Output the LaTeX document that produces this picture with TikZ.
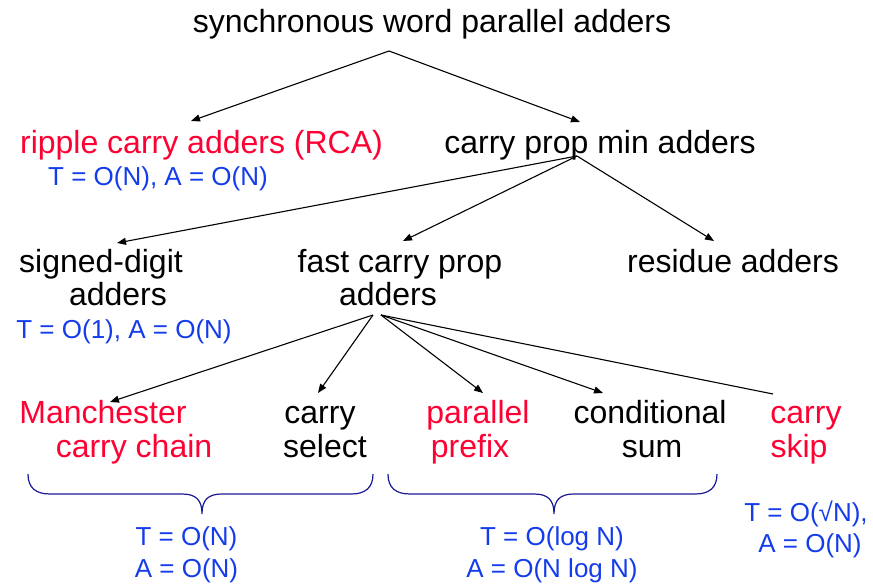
\documentclass[tikz,border=0pt]{standalone}
\usepackage{fontspec}
\setmainfont{Liberation Sans}
\usetikzlibrary{arrows.meta}
\definecolor{hired}{RGB}{255,0,51}
\definecolor{hiblue}{RGB}{20,60,235}
\definecolor{bracecol}{RGB}{25,25,150}
\begin{document}
\begin{tikzpicture}[x=1pt,y=-1pt,
  lbl/.style={inner sep=0pt, anchor=base, font=\fontsize{32}{38}\selectfont},
  red/.style={text=hired},
  cx/.style={inner sep=0pt, anchor=base, font=\fontsize{26}{31}\selectfont, text=hiblue},
  arr/.style={line width=1.1pt, -{Triangle[length=9pt,width=7pt]}},
  ln/.style={line width=1.1pt},
  brace/.style={line width=1.2pt, draw=bracecol}]
\useasboundingbox (0,0) rectangle (873,584);

% texts
\node[lbl] (root) at (432,32) {synchronous word parallel adders};
\node[lbl,red] (rca) at (201.5,153) {ripple carry adders (RCA)};
\node[cx] (rcac) at (158,185) {T = O(N), A = O(N)};
\node[lbl] (cpm) at (600,153) {carry prop min adders};

\node[lbl] (sd1) at (101,272) {signed-digit};
\node[lbl] (sd2) at (118,305) {adders};
\node[cx] (sdc) at (124,338) {T = O(1), A = O(N)};
\node[lbl] (fc1) at (400,272) {fast carry prop};
\node[lbl] (fc2) at (388,305) {adders};
\node[lbl] (res) at (733,272) {residue adders};

\node[lbl,red] (man1) at (103,423) {Manchester};
\node[lbl,red] (man2) at (134,457) {carry chain};
\node[lbl] (cs1) at (320,423) {carry};
\node[lbl] (cs2) at (325,457) {select};
\node[lbl,red] (pp1) at (478,423) {parallel};
\node[lbl,red] (pp2) at (470,457) {prefix};
\node[lbl] (co1) at (650,423) {conditional};
\node[lbl] (co2) at (652,457) {sum};
\node[lbl,red] (sk1) at (806,423) {carry};
\node[lbl,red] (sk2) at (799,457) {skip};

\node[cx] (b1a) at (186.5,545) {T = O(N)};
\node[cx] (b1b) at (186.5,577) {A = O(N)};
\node[cx] (b2a) at (552,545) {T = O(log N)};
\node[cx] (b2b) at (552,577) {A = O(N log N)};
\node[cx] (b3a) at (806,521) {T = O(\symbol{"221A}N),};
\node[cx] (b3b) at (810,552) {A = O(N)};

% connector anchor points
\coordinate (rootA) at (389,51);
\coordinate (rcaT) at (191,121);
\coordinate (cpmT) at (580,122);
\coordinate (cpmA) at (577,156);
\coordinate (sdT) at (117,243);
\coordinate (fcT) at (403,241);
\coordinate (resT) at (714,241);
\coordinate (fcA) at (373,315);
\coordinate (fcB) at (381,315);
\coordinate (manT) at (110,402);
\coordinate (csT) at (318,393);
\coordinate (ppT) at (483,393);
\coordinate (coT) at (603,393);
\coordinate (skE) at (773,394);

\draw[arr] (rootA) -- (rcaT);
\draw[arr] (rootA) -- (cpmT);
\draw[arr] (cpmA) -- (sdT);
\draw[arr] (cpmA) -- (fcT);
\draw[arr] (cpmA) -- (resT);
\draw[arr] (fcA) -- (manT);
\draw[arr] (fcA) -- (csT);
\draw[arr] (fcB) -- (ppT);
\draw[arr] (fcB) -- (coT);
\draw[ln] (fcB) -- (skE);

% braces
\draw[brace] (28,474) .. controls (28,488) and (36,494) .. (50,494) -- (182,494)
  .. controls (196,494) and (202,500) .. (202,514)
  .. controls (202,500) and (208,494) .. (222,494) -- (351,494)
  .. controls (365,494) and (373,488) .. (373,474);
\draw[brace] (388,474) .. controls (388,488) and (396,494) .. (410,494) -- (534,494)
  .. controls (548,494) and (554,500) .. (554,514)
  .. controls (554,500) and (560,494) .. (574,494) -- (695,494)
  .. controls (709,494) and (717,488) .. (717,474);
\end{tikzpicture}
\end{document}
